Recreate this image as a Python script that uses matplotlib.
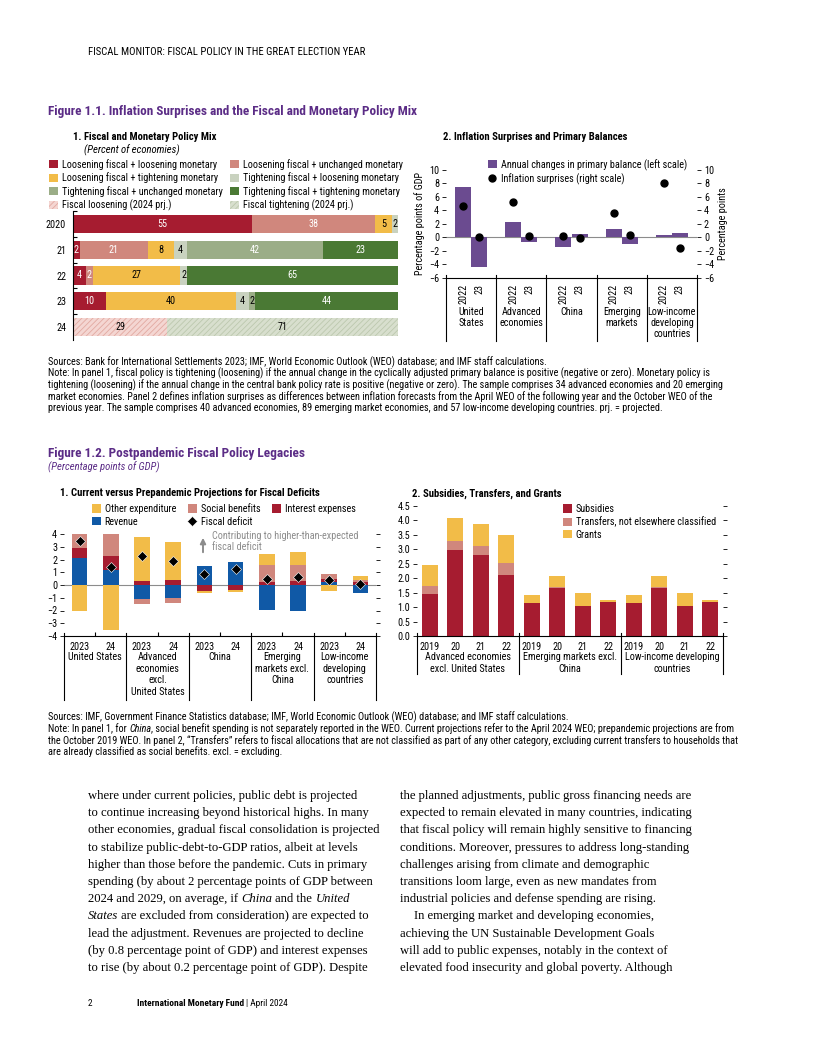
import matplotlib
matplotlib.use('Agg')
import matplotlib.pyplot as plt
import matplotlib.transforms as mtransforms
from matplotlib import font_manager
from matplotlib.ticker import FormatStrFormatter
import numpy as np

W, H = 816, 1056
have = {f.name for f in font_manager.fontManager.ttflist}
SANS = [f for f in ['Liberation Sans Narrow', 'Roboto Condensed', 'Liberation Sans']
        if f in have][:1] + ['DejaVu Sans']
SERIF = ['Liberation Serif', 'DejaVu Serif']
plt.rcParams['font.family'] = SANS
plt.rcParams['hatch.linewidth'] = 0.6
plt.rcParams['axes.linewidth'] = 0.8

# ---- data: Figure 1.1 panel 1 (percent of economies)
mix_years = ['2020', '21', '22', '23']
mix_cats = ['Loosening fiscal + loosening monetary', 'Loosening fiscal + unchanged monetary',
            'Loosening fiscal + tightening monetary', 'Tightening fiscal + loosening monetary',
            'Tightening fiscal + unchanged monetary', 'Tightening fiscal + tightening monetary']
mix_vals = [[55, 2, 4, 10],
            [38, 21, 2, 0],
            [5, 8, 27, 40],
            [2, 4, 2, 4],
            [0, 42, 0, 2],
            [0, 23, 65, 44]]
prj_year = '24'
prj_cats = ['Fiscal loosening (2024 prj.)', 'Fiscal tightening (2024 prj.)']
prj_vals = [29, 71]

# ---- data: Figure 1.1 panel 2
pb_groups = ['United\nStates', 'Advanced\neconomies', 'China', 'Emerging\nmarkets',
             'Low-income\ndeveloping\ncountries']
pb_years = ['2022', '23']
pb_2022 = [7.5, 2.35, -1.35, 1.25, 0.35]
pb_2023 = [-4.3, -0.65, 0.5, -1.0, 0.6]
inf_2022 = [4.6, 5.2, 0.15, 3.65, 8.1]
inf_2023 = [0.05, 0.25, -0.1, 0.4, -1.6]

# ---- data: Figure 1.2 panel 1 (percentage points of GDP)
def_years = ['2023', '24'] * 5
def_groups = ['United States', 'Advanced\neconomies\nexcl.\nUnited States', 'China',
              'Emerging\nmarkets excl.\nChina', 'Low-income\ndeveloping\ncountries']
revenue = [2.12, 1.15, -1.1, -1.0, 1.47, 1.82, -1.95, -2.0, 0.2, -0.6]
interest = [0.75, 1.15, 0.33, 0.4, -0.5, -0.4, 0.2, 0.28, 0.3, 0.2]
social = [1.13, 1.7, -0.42, -0.45, 0.0, 0.0, 1.35, 1.32, 0.36, 0.2]
other_exp = [-2.05, -3.55, 3.45, 3.0, -0.1, -0.12, 0.88, 0.97, -0.5, 0.3]
deficit = [3.45, 1.45, 2.25, 1.9, 0.85, 1.25, 0.45, 0.6, 0.4, 0.1]

# ---- data: Figure 1.2 panel 2
sub_years = ['2019', '20', '21', '22'] * 3
sub_groups = ['Advanced economies\nexcl. United States', 'Emerging markets excl.\nChina',
              'Low-income developing\ncountries']
subsidies = [1.45, 2.98, 2.8, 2.1, 1.15, 1.66, 1.04, 1.16, 1.15, 1.66, 1.04, 1.16]
transfers = [0.28, 0.3, 0.3, 0.42, 0.0, 0.03, 0.0, 0.03, 0.0, 0.03, 0.0, 0.03]
grants = [0.72, 0.82, 0.78, 0.98, 0.27, 0.38, 0.46, 0.07, 0.27, 0.38, 0.46, 0.07]

header = 'FISCAL MONITOR: FISCAL POLICY IN THE GREAT ELECTION YEAR'
title1 = 'Figure 1.1. Inflation Surprises and the Fiscal and Monetary Policy Mix'
title2 = 'Figure 1.2. Postpandemic Fiscal Policy Legacies'
notes1 = [
    'Sources: Bank for International Settlements 2023; IMF, World Economic Outlook (WEO) database; and IMF staff calculations.',
    'Note: In panel 1, fiscal policy is tightening (loosening) if the annual change in the cyclically adjusted primary balance is positive (negative or zero). Monetary policy is',
    'tightening (loosening) if the annual change in the central bank policy rate is positive (negative or zero). The sample comprises 34 advanced economies and 20 emerging',
    'market economies. Panel 2 defines inflation surprises as differences between inflation forecasts from the April WEO of the following year and the October WEO of the',
    'previous year. The sample comprises 40 advanced economies, 89 emerging market economies, and 57 low-income developing countries. prj. = projected.',
]

PURPLE = '#5B2C86'
RED = '#A61C30'
SALMON = '#D0877D'
YELLOW = '#F2BC48'
BLUE = '#1059A6'
LGREEN = '#C9D2BF'
MGREEN = '#9BAD87'
DGREEN = '#4A7934'
PB_COL = '#6B4B90'
GRAY = '#8C8C8C'

fig = plt.figure(figsize=(W / 100, H / 100), dpi=100)
R = fig.canvas.get_renderer()


def rect(x0, y0, x1, y1):
    return [x0 / W, 1 - y1 / H, (x1 - x0) / W, (y1 - y0) / H]


def ptext(x, y, s, **kw):
    kw.setdefault('va', 'center')
    kw.setdefault('ha', 'left')
    return fig.text(x / W, 1 - y / H, s, **kw)


def measure(s, **kw):
    t = fig.text(0, 0, s, **kw)
    w = t.get_window_extent(renderer=R).width
    t.remove()
    return w


def fit(sample, target, **kw):
    return 10 * target / measure(sample, fontsize=10, **kw)


def run_line(x, y, parts, **kw):
    sp = measure('a a', **kw) - measure('aa', **kw)
    for s, extra in parts:
        k = dict(kw, **extra)
        lead = len(s) - len(s.lstrip(' '))
        trail = len(s) - len(s.rstrip(' '))
        core = s.strip(' ')
        x += lead * sp
        ptext(x, y, core, **k)
        x += measure(core, **k) + trail * sp


def figy(y):
    return 1 - y / H


N = {}
I = {'style': 'italic'}

# font sizes fitted to the widths the reference texts take
FS = fit('Loosening fiscal + loosening monetary', 153)
FSPX = FS * 100 / 72
NOTE_FS = fit(notes1[1], 652)
TITLE_FS = fit(title1, 369, fontweight='bold')
PANEL_FS = fit('1. Fiscal and Monetary Policy Mix', 143, fontweight='bold')
HEAD_FS = fit(header, 277)
LSP = 0.26
HL = 0.85
HTP = 0.4

# ---------------- page header and titles
ptext(88, 52, header, fontsize=HEAD_FS)
ptext(48, 112, title1, fontsize=TITLE_FS, fontweight='bold', color=PURPLE)
ptext(73, 137, '1. Fiscal and Monetary Policy Mix', fontsize=PANEL_FS, fontweight='bold')
ptext(84, 150, '(Percent of economies)', fontsize=PANEL_FS, style='italic')
ptext(443, 137, '2. Inflation Surprises and Primary Balances', fontsize=PANEL_FS,
      fontweight='bold')

# ---------------- Figure 1.1 panel 1
ax1 = fig.add_axes(rect(73, 211, 398, 340))
mix_cols = [RED, SALMON, YELLOW, LGREEN, MGREEN, DGREEN]
mix_txt = ['white', 'white', 'black', 'black', 'white', 'white']
rows = np.arange(len(mix_years))
left = np.zeros(len(mix_years))
for cat, vals, col, tc in zip(mix_cats, mix_vals, mix_cols, mix_txt):
    v = np.array(vals, float)
    ax1.barh(rows, v, left=left, height=0.7, color=col, label=cat)
    for r in rows:
        if v[r] > 0:
            c = 'black' if (col == MGREEN and v[r] < 5) else tc
            ax1.text(left[r] + v[r] / 2, r, f'{v[r]:g}', ha='center', va='center',
                     color=c, fontsize=FS)
    left += v
prow = len(mix_years)
pleft = 0
for cat, v, fc, hc in zip(prj_cats, prj_vals, ['#F4D6D2', '#D8DFCE'], ['#E2A9A1', '#BCC8AE']):
    ax1.barh(prow, v, left=pleft, height=0.7, color=fc, edgecolor=hc, hatch='//////',
             linewidth=0, label=cat)
    ax1.text(pleft + v / 2, prow, str(v), ha='center', va='center', fontsize=FS)
    pleft += v
ax1.set_xlim(0, 100)
ax1.set_ylim(prow + 0.5, -0.5)
ax1.set_yticks(list(rows) + [prow], labels=mix_years + [prj_year])
ax1.set_yticks(np.arange(-0.5, prow + 0.5, 1), minor=True)
ax1.tick_params(axis='y', which='major', length=0, pad=5, labelsize=FS)
ax1.tick_params(axis='y', which='minor', length=3, direction='in', width=0.8)
ax1.set_xticks([])
for s in ['top', 'right', 'bottom']:
    ax1.spines[s].set_visible(False)
h, l = ax1.get_legend_handles_labels()
order = [0, 2, 4, 6, 1, 3, 5, 7]
col1_w = (HL + HTP) * FSPX + max(measure(l[i], fontsize=FS) for i in order[:4])
ax1.legend([h[i] for i in order], [l[i] for i in order], loc='upper left',
           bbox_to_anchor=(49 / W, figy(159)), bbox_transform=fig.transFigure, ncol=2,
           frameon=False, fontsize=FS, handlelength=HL, handleheight=HL,
           handletextpad=HTP, labelspacing=LSP, columnspacing=(230 - 49 - col1_w) / FSPX,
           borderpad=0, borderaxespad=0)

# ---------------- Figure 1.1 panel 2
ax2 = fig.add_axes(rect(446, 170, 697, 278))
g = np.arange(len(pb_groups))
xs = np.ravel(np.column_stack([g + 0.34, g + 0.66]))
ax2.axhline(0, color=GRAY, lw=0.8, zorder=0.5)
ax2.bar(xs, np.ravel(np.column_stack([pb_2022, pb_2023])), width=0.32, color=PB_COL,
        label='Annual changes in primary balance (left scale)')
ax2.set_xlim(0, len(pb_groups))
ax2.set_ylim(-6, 10)
ax2.set_yticks(range(-6, 11, 2))
ax2.tick_params(axis='y', length=3, width=0.6, pad=2, labelsize=FS)
ax2.set_xticks(xs, labels=pb_years * len(pb_groups), rotation=90)
ax2.tick_params(axis='x', length=0, pad=4, labelsize=FS)
ax2.set_ylabel('Percentage points of GDP', fontsize=FS, labelpad=3)
for s in ['top', 'right', 'left']:
    ax2.spines[s].set_visible(False)
ax2r = ax2.twinx()
ax2r.plot(xs, np.ravel(np.column_stack([inf_2022, inf_2023])), 'o', color='black', ms=5,
          label='Inflation surprises (right scale)')
ax2r.set_ylim(-6, 10)
ax2r.set_yticks(range(-6, 11, 2))
ax2r.tick_params(axis='y', length=3, width=0.6, pad=2, labelsize=FS)
ax2r.set_ylabel('Percentage points', fontsize=FS, labelpad=3)
for s in ax2r.spines.values():
    s.set_visible(False)
bt2 = mtransforms.blended_transform_factory(ax2.transData, fig.transFigure)
for i, name in enumerate(pb_groups):
    ax2.text(i + 0.5, figy(307), name, transform=bt2, ha='center', va='top', fontsize=FS,
             linespacing=1.15)
for b in range(len(pb_groups) + 1):
    ax2.axvline(b, ymin=-0.58, ymax=0.03, color='black', lw=0.8, clip_on=False)
h1, l1 = ax2.get_legend_handles_labels()
h2, l2 = ax2r.get_legend_handles_labels()
ax2r.legend(h1 + h2, l1 + l2, loc='upper left', bbox_to_anchor=(488 / W, figy(159)),
            bbox_transform=fig.transFigure, frameon=False, fontsize=FS, handlelength=HL,
            handleheight=HL, handletextpad=HTP, labelspacing=LSP, borderpad=0,
            borderaxespad=0)

# ---------------- notes 1.1
for i, line in enumerate(notes1):
    ptext(48, 362 + 11.4 * i, line, fontsize=NOTE_FS)

# ---------------- Figure 1.2 titles
ptext(48, 453, title2, fontsize=TITLE_FS, fontweight='bold', color=PURPLE)
ptext(48, 467, '(Percentage points of GDP)', fontsize=PANEL_FS, style='italic', color=PURPLE)
ptext(60, 493, '1. Current versus Prepandemic Projections for Fiscal Deficits',
      fontsize=PANEL_FS, fontweight='bold')
ptext(412, 494, '2. Subsidies, Transfers, and Grants', fontsize=PANEL_FS, fontweight='bold')

# ---------------- Figure 1.2 panel 1
ax3 = fig.add_axes(rect(64, 534, 376, 636))
x3 = np.arange(len(def_years))
ax3.axhline(0, color=GRAY, lw=0.8, zorder=0.5)
comp_names = ['Revenue', 'Interest expenses', 'Social benefits', 'Other expenditure']
comp_vals = [revenue, interest, social, other_exp]
comp_cols = [BLUE, RED, SALMON, YELLOW]
pos = np.zeros(len(x3))
neg = np.zeros(len(x3))
bars3 = {}
for name, vals, col in zip(comp_names, comp_vals, comp_cols):
    v = np.array(vals, float)
    base = np.where(v >= 0, pos, neg)
    bars3[name] = ax3.bar(x3, v, bottom=base, width=0.5, color=col, label=name)
    pos += np.clip(v, 0, None)
    neg += np.clip(v, None, 0)
dline, = ax3.plot(x3, deficit, 'D', color='black', ms=5.6, mec='white', mew=0.4,
                  label='Fiscal deficit')
ax3.set_xlim(-0.5, len(x3) - 0.5)
ax3.set_ylim(-4, 4)
ax3.set_yticks(range(-4, 5))
ax3.tick_params(axis='y', length=3, width=0.6, pad=2, labelsize=FS, right=True)
ax3.set_xticks(x3, labels=def_years)
ax3.set_xticks(np.arange(0.5, len(x3) - 1, 2), minor=True)
ax3.tick_params(axis='x', which='major', length=0, pad=4, labelsize=FS)
ax3.tick_params(axis='x', which='minor', length=3, direction='in', width=0.8)
for s in ['top', 'right', 'left']:
    ax3.spines[s].set_visible(False)
bt3 = mtransforms.blended_transform_factory(ax3.transData, fig.transFigure)
for i, name in enumerate(def_groups):
    ax3.text(2 * i + 0.5, figy(652), name, transform=bt3, ha='center', va='top',
             fontsize=FS, linespacing=1.2)
for b in np.arange(-0.5, len(x3), 2):
    ax3.axvline(b, ymin=-0.63, ymax=0.03, color='black', lw=0.8, clip_on=False)
leg3_labels = ['Other expenditure', 'Revenue', 'Social benefits', 'Fiscal deficit',
               'Interest expenses']
c3_w = (HL + HTP) * FSPX + measure('Other expenditure', fontsize=FS)
ax3.legend([bars3['Other expenditure'], bars3['Revenue'], bars3['Social benefits'], dline,
            bars3['Interest expenses']], leg3_labels,
           loc='upper left', bbox_to_anchor=(92 / W, figy(504)),
           bbox_transform=fig.transFigure, ncol=3, frameon=False, fontsize=FS,
           handlelength=HL, handleheight=HL, handletextpad=HTP, labelspacing=LSP,
           columnspacing=(188 - 92 - c3_w) / FSPX, borderpad=0, borderaxespad=0)
ax3.annotate('', xy=(203, H - 535), xytext=(203, H - 555), xycoords='figure pixels',
             textcoords='figure pixels',
             arrowprops=dict(arrowstyle='-|>', color=GRAY, lw=1.4, mutation_scale=8))
ptext(212, 531, 'Contributing to higher-than-expected\nfiscal deficit', fontsize=FS,
      color=GRAY, va='top', linespacing=1.15)

# ---------------- Figure 1.2 panel 2
ax4 = fig.add_axes(rect(417, 506, 723, 636))
x4 = np.arange(len(sub_years))
ax4.bar(x4, subsidies, width=0.63, color=RED, label='Subsidies')
ax4.bar(x4, transfers, bottom=subsidies, width=0.63, color=SALMON,
        label='Transfers, not elsewhere classified')
ax4.bar(x4, grants, bottom=np.add(subsidies, transfers), width=0.63, color=YELLOW,
        label='Grants')
ax4.set_xlim(-0.5, len(x4) - 0.5)
ax4.set_ylim(0, 4.5)
ax4.set_yticks(np.arange(0, 4.51, 0.5))
ax4.yaxis.set_major_formatter(FormatStrFormatter('%.1f'))
ax4.tick_params(axis='y', length=3, width=0.6, pad=2, labelsize=FS, right=True)
ax4.set_xticks(x4, labels=sub_years)
ax4.tick_params(axis='x', length=0, pad=4, labelsize=FS)
for s in ['top', 'right', 'left']:
    ax4.spines[s].set_visible(False)
bt4 = mtransforms.blended_transform_factory(ax4.transData, fig.transFigure)
for i, name in enumerate(sub_groups):
    ax4.text(4 * i + 1.5, figy(652), name, transform=bt4, ha='center', va='top',
             fontsize=FS, linespacing=1.2)
for b in np.arange(-0.5, len(x4), 4):
    ax4.axvline(b, ymin=-0.29, ymax=0.02, color='black', lw=0.8, clip_on=False)
ax4.legend(loc='upper left', bbox_to_anchor=(563 / W, figy(504)),
           bbox_transform=fig.transFigure, frameon=False, fontsize=FS, handlelength=HL,
           handleheight=HL, handletextpad=HTP, labelspacing=LSP, borderpad=0,
           borderaxespad=0)

# ---------------- notes 1.2
notes2 = [
    [('Sources: IMF, Government Finance Statistics database; IMF, World Economic Outlook (WEO) database; and IMF staff calculations.', N)],
    [('Note: In panel 1, for ', N), ('China', I),
     (', social benefit spending is not separately reported in the WEO. Current projections refer to the April 2024 WEO; prepandemic projections are from', N)],
    [('the October 2019 WEO. In panel 2, \u201cTransfers\u201d refers to fiscal allocations that are not classified as part of any other category, excluding current transfers to households that', N)],
    [('are already classified as social benefits. excl. = excluding.', N)],
]
for i, parts in enumerate(notes2):
    run_line(48, 717 + 11.6 * i, parts, fontsize=NOTE_FS)

# ---------------- body text
body_left = [
    [('where under current policies, public debt is projected', N)],
    [('to continue increasing beyond historical highs. In many', N)],
    [('other economies, gradual fiscal consolidation is projected', N)],
    [('to stabilize public-debt-to-GDP ratios, albeit at levels', N)],
    [('higher than those before the pandemic. Cuts in primary', N)],
    [('spending (by about 2 percentage points of GDP between', N)],
    [('2024 and 2029, on average, if ', N), ('China', I), (' and the ', N), ('United', I)],
    [('States', I), (' are excluded from consideration) are expected to', N)],
    [('lead the adjustment. Revenues are projected to decline', N)],
    [('(by 0.8 percentage point of GDP) and interest expenses', N)],
    [('to rise (by about 0.2 percentage point of GDP). Despite', N)],
]
body_right = [
    'the planned adjustments, public gross financing needs are',
    'expected to remain elevated in many countries, indicating',
    'that fiscal policy will remain highly sensitive to financing',
    'conditions. Moreover, pressures to address long-standing',
    'challenges arising from climate and demographic',
    'transitions loom large, even as new mandates from',
    'industrial policies and defense spending are rising.',
    'In emerging market and developing economies,',
    'achieving the UN Sustainable Development Goals',
    'will add to public expenses, notably in the context of',
    'elevated food insecurity and global poverty. Although',
]
BODY_FS = 9.1
for i, parts in enumerate(body_left):
    run_line(88, 796 + 17.2 * i, parts, fontsize=BODY_FS, family=SERIF)
for i, line in enumerate(body_right):
    indent = 14 if line.startswith('In emerging') else 0
    ptext(400 + indent, 796 + 17.2 * i, line, fontsize=BODY_FS, family=SERIF)

# ---------------- footer
FOOT_FS = fit('International Monetary Fund | April 2024', 148)
ptext(88, 1003, '2', fontsize=FOOT_FS)
run_line(137, 1003, [('International Monetary Fund', {'fontweight': 'bold'}),
                     (' | April 2024', N)], fontsize=FOOT_FS)

fig.savefig('out.png', dpi=100)
